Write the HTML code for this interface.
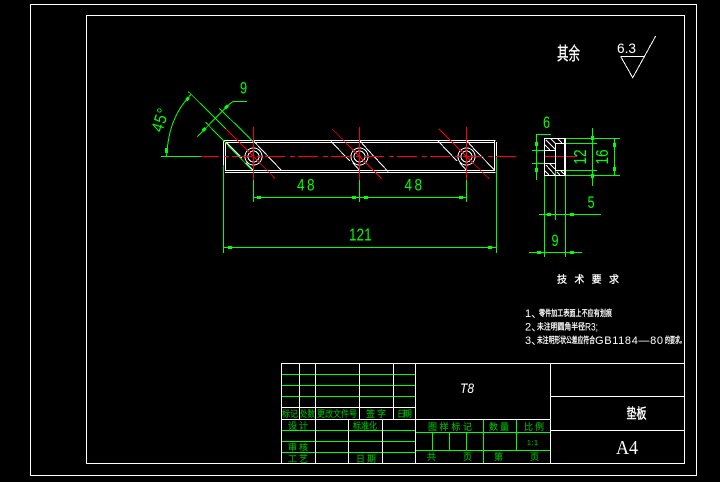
<!DOCTYPE html>
<html><head><meta charset="utf-8"><style>
html,body{margin:0;padding:0;background:#000;width:720px;height:482px;overflow:hidden}
svg{display:block;shape-rendering:crispEdges}
text{font-family:"Liberation Sans","Noto Sans CJK SC",sans-serif}
.w{stroke:#fff;fill:none;stroke-width:1}
.g{stroke:#0f0;fill:none;stroke-width:1}
.r{stroke:#f00;fill:none;stroke-width:1}
.m{fill:#0f0}
.t{fill:#0f0;font-size:17px}
.l{fill:#00b000;stroke:#00a000;stroke-width:.2px;font-size:9px;font-family:"Noto Sans CJK SC",sans-serif}
.n{fill:#fff;stroke:#fff;stroke-width:.3px;font-family:"Noto Sans CJK SC",sans-serif;font-size:8.5px}
.a{fill:#fff;font-size:11px}
</style></head><body>
<svg width="720" height="482" viewBox="0 0 720 482" xmlns="http://www.w3.org/2000/svg">
<rect width="720" height="482" fill="#000"/>
<!-- frames -->
<g class="w">
<rect x="30.5" y="4.5" width="666" height="471"/>
<rect x="86.5" y="15.5" width="598" height="448"/>
</g>
<!-- title block -->
<g class="g">
<path d="M281 374.5H415M281 385.5H415M281 396.5H415M281 430.5H415M281 441.5H415M281 452.5H415"/>
<path d="M416 432.5H550M416 450.5H550M483.5 419V463M516.5 419V450M432.5 432V450M449.5 432V450M466.5 432V450"/>
</g>
<g class="w">
<path d="M281.5 363V463M281 363.5H684M281 407.5H415M281 419.5H550M299.5 363V419M315.5 363V463M359.5 363V419M393.5 363V419M415.5 363V463M348.5 419V463M382.5 419V463M550.5 363V463M550 396.5H684M550 430.5H684"/>
</g>
<g class="l">
<text x="282" y="417" textLength="16" lengthAdjust="spacingAndGlyphs">标记</text>
<text x="300" y="417" textLength="15" lengthAdjust="spacingAndGlyphs">处数</text>
<text x="317" y="417" textLength="40" lengthAdjust="spacingAndGlyphs">更改文件号</text>
<text x="366" y="417" textLength="20" lengthAdjust="spacing">签字</text>
<text x="397" y="417" textLength="15" lengthAdjust="spacing">日期</text>
<text x="288" y="429" textLength="20" lengthAdjust="spacing">设计</text>
<text x="353" y="429" textLength="24" lengthAdjust="spacingAndGlyphs">标准化</text>
<text x="288" y="450.500" textLength="20" lengthAdjust="spacing">审核</text>
<text x="288" y="462" textLength="20" lengthAdjust="spacing">工艺</text>
<text x="356" y="462" textLength="20" lengthAdjust="spacing">日期</text>
<text x="428" y="430" textLength="44" lengthAdjust="spacing">图样标记</text>
<text x="489" y="430" textLength="20" lengthAdjust="spacing">数量</text>
<text x="524" y="430" textLength="20" lengthAdjust="spacing">比例</text>
<text x="527" y="445" textLength="11" style="font-size:7px">1:1</text>
<text x="427" y="460">共</text>
<text x="463" y="460">页</text>
<text x="494" y="460">第</text>
<text x="530" y="460">页</text>
</g>
<text x="460" y="393" fill="#fff" font-style="italic" style="font-size:14px" textLength="14" lengthAdjust="spacingAndGlyphs">T8</text>
<text transform="translate(626.500 418.500) scale(1 1.400)" fill="#fff" stroke="#fff" stroke-width=".3" style="font-size:10px;font-family:'Noto Sans CJK SC',sans-serif">垫板</text>
<text x="616" y="454" fill="#fff" style="font-family:'Liberation Serif',serif;font-size:20px" textLength="22" lengthAdjust="spacingAndGlyphs">A4</text>

<!-- plate -->
<g class="w">
<path d="M223.500 140.500H495.500M225 142.500H494M225 170.500H494M225 172.500H495.500M223.500 140V173M225.500 142V171M494.500 140V171M496.500 142V172"/>
</g>
<g class="w">
<path d="M226 142L242 158M246 163L254 171M253 140.500L262 150M262 150L282 171"/>
<path d="M331 141.500L350 161M353 163L360 171M360 141L368 150M368 150L388 171.500"/>
<path d="M438 141L457 161M460 163L467 171M467 141L475 150M475 150L495 170.500"/>
<circle cx="253.500" cy="156.500" r="8.500"/><circle cx="253.500" cy="156.500" r="5.500"/>
<circle cx="359.500" cy="156.500" r="8.500"/><circle cx="359.500" cy="156.500" r="5.500"/>
<circle cx="466.500" cy="156.500" r="8.500"/><circle cx="466.500" cy="156.500" r="5.500"/>
</g>
<!-- red center lines -->
<g class="r">
<path d="M201 156.500H520" stroke-dasharray="20 5 5 3" stroke-dashoffset="2"/>
<path d="M253.500 127V180M359.500 127V180M466.500 127V180M544 156.500H577"/>
</g>
<g class="r">
<path d="M226 129L275 178.300M332.300 129L381.700 178.700M439 129L489 178.700"/>
</g>
<!-- green dims main -->
<g class="g">
<path d="M188.300 91.600L226 129M219.300 108.300L253.300 141.600M205.700 122.300L252 170"/>
<path d="M197.300 136.700L228.300 105L233 101.500"/>
<path d="M166.500 156C167.500 143 170 130 173.500 121.700C177 112 183 103 191 94.500"/>
</g>
<g class="g">
<path d="M233 101.500H247M161 156.500H201"/>
<path d="M253.500 180V202M359.500 180V202M466.500 180V202M253 197.500H467M223.500 165V253M496.500 157V253M223 247.500H497"/>
<path d="M565 138.500H620M565 143.500H597M565 170.500H597M565 175.500H620M592.500 128V186M614.500 138V176"/>
<path d="M536.500 134V180M536 134.500H551M532 150.500H544M532 163.500H544"/>
<path d="M539 214.500H601M529 252.500H582M544.500 175V257M555.500 170V220M565.500 175V257"/>
</g>
<g class="m">
<rect x="257" y="196" width="4" height="3"/><rect x="352" y="196" width="4" height="3"/>
<rect x="364" y="196" width="4" height="3"/><rect x="459" y="196" width="4" height="3"/>
<rect x="228" y="246" width="4" height="3"/><rect x="488" y="246" width="4" height="3"/>
<rect x="165" y="148" width="3" height="5"/>
<rect x="591" y="136" width="3" height="4"/><rect x="591" y="174" width="3" height="4"/>
<rect x="613" y="143" width="3" height="4"/><rect x="613" y="167" width="3" height="4"/>
<rect x="535" y="142" width="3" height="4"/><rect x="535" y="168" width="3" height="4"/>
<rect x="547" y="213" width="4" height="3"/><rect x="570" y="213" width="4" height="3"/>
<rect x="537" y="251" width="4" height="3"/><rect x="570" y="251" width="4" height="3"/>
</g>
<g fill="#0f0">
<rect x="-2" y="-1.500" width="4" height="3" transform="translate(226.500 107) rotate(-45)"/>
<rect x="-2" y="-1.500" width="4" height="3" transform="translate(204 129.500) rotate(-45)"/>
<rect x="-2" y="-1.500" width="4" height="3" transform="translate(187.500 99) rotate(-50)"/>
</g>
<!-- side view -->
<g class="w">
<path d="M544.500 138.500H565M544.500 175.500H565M544.500 138V176M555.500 143V170M555 143.500H564M555 170.500H564M544 150.500H555M544 163.500H555M564.500 138V176M565.500 138V176"/>
<path d="M546 140L556 150M551 139L556 144M545 145L550 150M558 139L562 143M546 165L555 175M545 171L549 175M550 164L555 169M557 172L560 175M561 171L564 174"/>
</g>
<!-- green dim text -->
<g class="t">
<text transform="translate(297 190.500) scale(.8 1)" letter-spacing="3">48</text>
<text transform="translate(404.500 190.500) scale(.8 1)" letter-spacing="3">48</text>
<text transform="translate(349 240.500) scale(.8 1.050)" letter-spacing="0">121</text>
<text transform="translate(240 93.500) scale(.75 1)">9</text>
<text transform="translate(543 128) scale(.75 1)">6</text>
<text transform="translate(587.500 208) scale(.75 1)">5</text>
<text transform="translate(551.500 246) scale(.75 1)">9</text>
<text transform="translate(586 164.500) rotate(-90) scale(.8 1.050)">12</text>
<text transform="translate(608 164.500) rotate(-90) scale(.8 1.050)">16</text>
<text transform="translate(162 133) rotate(-72) scale(.85 1)" letter-spacing="1">45°</text>
</g>
<!-- roughness -->
<text transform="translate(557 60) scale(.96 1.500)" fill="#fff" stroke="#fff" stroke-width=".2" style="font-family:'Noto Sans CJK SC',sans-serif;font-size:12px">其余</text>
<text x="617" y="53" fill="#fff" style="font-size:14px" textLength="19" lengthAdjust="spacingAndGlyphs">6.3</text>
<path class="w" d="M620.700 56.500H644.300M620.700 56.500L632.700 77.700L655.700 36"/>
<!-- notes -->
<g class="n">
<text x="557" y="283" textLength="62" lengthAdjust="spacing" style="font-size:10px">技术要求</text>
<text x="539" y="316" textLength="73" lengthAdjust="spacingAndGlyphs">零件加工表面上不应有划痕</text>
<text x="537" y="329.500" textLength="48" lengthAdjust="spacingAndGlyphs">未注明圆角半径</text>
<text x="537" y="343" textLength="58" lengthAdjust="spacingAndGlyphs">未注明形状公差应符合</text>
<text x="665" y="343" textLength="20" lengthAdjust="spacingAndGlyphs">的要求。</text>
</g>
<g class="a">
<text x="525" y="317">1、</text>
<text x="525" y="330.500">2、</text>
<text x="525" y="344">3、</text>
<text x="585" y="330.500" textLength="13" lengthAdjust="spacingAndGlyphs">R3;</text>
<text x="595" y="344" textLength="68" lengthAdjust="spacing">GB1184—80</text>
</g>
</svg>
</body></html>
